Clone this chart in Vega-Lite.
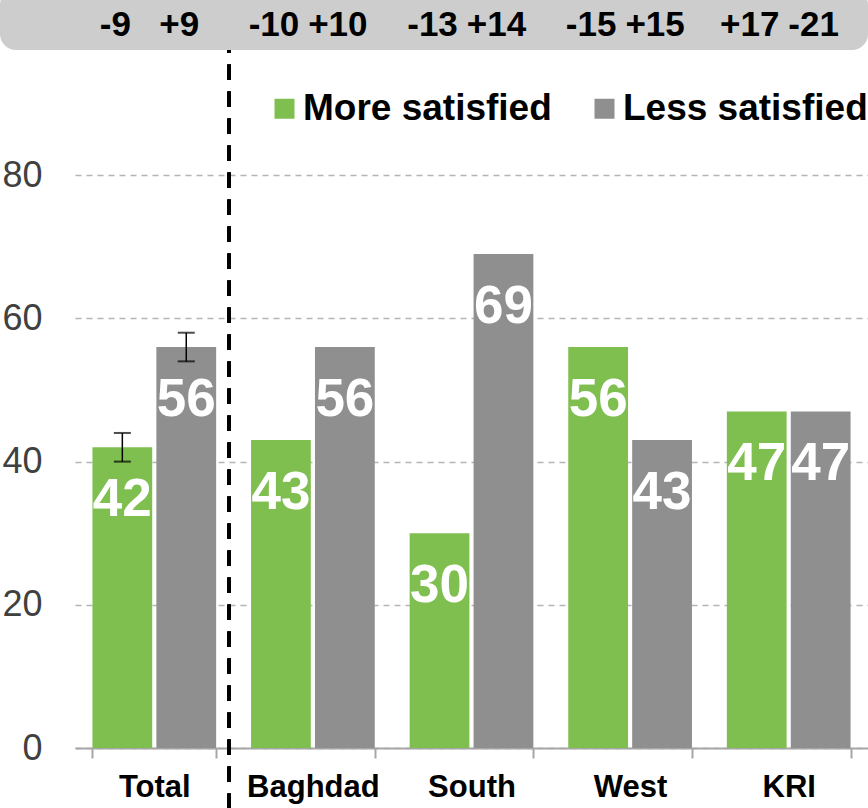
{
  "$schema": "https://vega.github.io/schema/vega-lite/v6.json",
  "width": 793,
  "height": 716,
  "autosize": "none",
  "padding": {"left": 75, "top": 32, "right": 0, "bottom": 60},
  "config": {
    "view": {"stroke": null},
    "font": "Liberation Sans"
  },
  "datasets": {
    "bars": [
      {"region": "Total", "group": "More satisfied", "value": 42, "lo": 40, "hi": 44, "delta": "-9"},
      {"region": "Total", "group": "Less satisfied", "value": 56, "lo": 54, "hi": 58, "delta": "+9"},
      {"region": "Baghdad", "group": "More satisfied", "value": 43, "lo": null, "hi": null, "delta": "-10"},
      {"region": "Baghdad", "group": "Less satisfied", "value": 56, "lo": null, "hi": null, "delta": "+10"},
      {"region": "South", "group": "More satisfied", "value": 30, "lo": null, "hi": null, "delta": "-13"},
      {"region": "South", "group": "Less satisfied", "value": 69, "lo": null, "hi": null, "delta": "+14"},
      {"region": "West", "group": "More satisfied", "value": 56, "lo": null, "hi": null, "delta": "-15"},
      {"region": "West", "group": "Less satisfied", "value": 43, "lo": null, "hi": null, "delta": "+15"},
      {"region": "KRI", "group": "More satisfied", "value": 47, "lo": null, "hi": null, "delta": "+17"},
      {"region": "KRI", "group": "Less satisfied", "value": 47, "lo": null, "hi": null, "delta": "-21"}
    ],
    "band": [{"start": -0.0946, "end": 1.0}]
  },
  "resolve": {"scale": {"x": "independent"}},
  "layer": [
    {
      "data": {"name": "band"},
      "mark": {"type": "rect", "color": "#cdcdcd", "cornerRadius": 16},
      "encoding": {
        "x": {"field": "start", "type": "quantitative", "scale": {"domain": [0, 1], "nice": false, "zero": false}, "axis": null},
        "x2": {"field": "end"},
        "y": {"datum": 97.5, "type": "quantitative", "scale": {"domain": [0, 100], "nice": false}},
        "y2": {"datum": 106}
      }
    },
    {
      "data": {"name": "bars"},
      "encoding": {
        "x": {
          "field": "region", "type": "nominal",
          "sort": ["Total", "Baghdad", "South", "West", "KRI"],
          "scale": {"paddingInner": 0.22, "paddingOuter": 0.11},
          "axis": {
            "title": null, "labelAngle": 0, "labelFontSize": 31, "labelFontWeight": "bold",
            "labelColor": "#000000", "domainColor": "#a6a6a6", "domainWidth": 2,
            "tickColor": "#a6a6a6", "tickWidth": 2, "tickSize": 10, "tickBand": "extent",
            "labelPadding": 14, "grid": false
          }
        },
        "xOffset": {
          "field": "group", "type": "nominal",
          "sort": ["More satisfied", "Less satisfied"],
          "scale": {"paddingInner": 0.065, "paddingOuter": 0}
        }
      },
      "layer": [
        {
          "mark": {"type": "bar"},
          "encoding": {
            "y": {
              "field": "value", "type": "quantitative",
              "scale": {"domain": [0, 100], "nice": false},
              "axis": {
                "title": null, "values": [0, 20, 40, 60, 80], "domain": false, "ticks": false,
                "tickSize": 0, "labelFontSize": 36, "labelColor": "#404040", "labelPadding": 33,
                "grid": true, "gridDash": [6, 5], "gridColor": "#b4b4b4", "gridWidth": 1.5
              }
            },
            "color": {
              "field": "group", "type": "nominal",
              "scale": {"domain": ["More satisfied", "Less satisfied"], "range": ["#7fbf50", "#8f8f8f"]},
              "legend": {
                "title": null, "orient": "none", "direction": "horizontal",
                "legendX": 191, "legendY": 58, "padding": 0,
                "symbolType": "square", "symbolSize": 400, "symbolStrokeWidth": 0,
                "labelFontSize": 37, "labelFontWeight": "bold", "labelColor": "#000000",
                "labelOffset": 0, "columnPadding": 34, "labelLimit": 0
              }
            }
          }
        },
        {
          "mark": {"type": "text", "color": "white", "fontSize": 53, "fontWeight": "bold", "baseline": "alphabetic", "dy": 69},
          "encoding": {
            "y": {"field": "value", "type": "quantitative"},
            "text": {"field": "value", "type": "quantitative"}
          }
        },
        {
          "transform": [{"filter": "isValid(datum.lo)"}],
          "mark": {"type": "rule", "color": "black", "strokeWidth": 1.5},
          "encoding": {
            "y": {"field": "lo", "type": "quantitative"},
            "y2": {"field": "hi"}
          }
        },
        {
          "transform": [{"filter": "isValid(datum.lo)"}],
          "mark": {"type": "tick", "color": "black", "size": 17, "thickness": 2},
          "encoding": {"y": {"field": "lo", "type": "quantitative"}}
        },
        {
          "transform": [{"filter": "isValid(datum.lo)"}],
          "mark": {"type": "tick", "color": "black", "size": 17, "thickness": 2},
          "encoding": {"y": {"field": "hi", "type": "quantitative"}}
        },
        {
          "mark": {"type": "text", "color": "black", "fontSize": 35, "fontWeight": "bold", "baseline": "middle", "dx": -7},
          "encoding": {
            "y": {"datum": 101.0, "type": "quantitative"},
            "text": {"field": "delta", "type": "nominal"}
          }
        },
        {
          "mark": {"type": "rule", "color": "black", "strokeWidth": 3.5, "strokeDash": [15, 12]},
          "encoding": {
            "x": {"datum": "Total", "type": "nominal", "bandPosition": 1.105},
            "xOffset": null,
            "y": {"datum": -8.5, "type": "quantitative"},
            "y2": {"datum": 97.5}
          }
        }
      ]
    }
  ]
}
